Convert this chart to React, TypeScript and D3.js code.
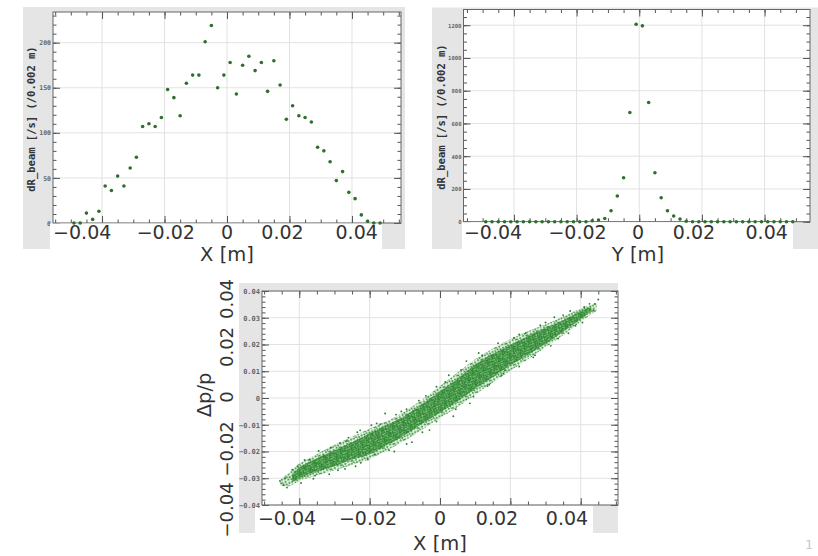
import React, { useEffect, useRef } from 'react';
import * as d3 from 'd3';

// bin centres (0.002 m bins)
const binCenters = [
  -0.049, -0.047, -0.045, -0.043, -0.041, -0.039, -0.037, -0.035, -0.033, -0.031,
  -0.029, -0.027, -0.025, -0.023, -0.021, -0.019, -0.017, -0.015, -0.013, -0.011,
  -0.009, -0.007, -0.005, -0.003, -0.001, 0.001, 0.003, 0.005, 0.007, 0.009,
  0.011, 0.013, 0.015, 0.017, 0.019, 0.021, 0.023, 0.025, 0.027, 0.029,
  0.031, 0.033, 0.035, 0.037, 0.039, 0.041, 0.043, 0.045, 0.047, 0.049,
];

// dR_beam per bin, X projection
const rateX = [
  0, 0, 11, 4, 13, 41, 36, 52, 41, 61,
  73, 107, 110, 107, 117, 148, 139, 119, 155, 164,
  164, 201, 219, 150, 164, 178, 143, 175, 185, 169,
  178, 146, 180, 153, 115, 130, 119, 117, 112, 84,
  80, 68, 47, 57, 34, 27, 9, 2, 0, 0,
];

// dR_beam per bin, Y projection
const rateY = [
  0, 0, 0, 0, 0, 0, 0, 0, 0, 0,
  0, 0, 0, 0, 0, 0, 0, 6, 10, 20,
  67, 157, 268, 667, 1206, 1196, 728, 299, 146, 67,
  35, 16, 3, 0, 0, 0, 0, 0, 0, 0,
  0, 0, 0, 0, 0, 0, 0, 0, 0, 0,
];

const posTicks = [-0.04, -0.02, 0, 0.02, 0.04];
const posTickLabels = ['−0.04', '−0.02', '0', '0.02', '0.04'];
const rateXTicks = [0, 50, 100, 150, 200];
const rateYTicks = [0, 200, 400, 600, 800, 1000, 1200];
const dpTicks = [-0.04, -0.03, -0.02, -0.01, 0, 0.01, 0.02, 0.03, 0.04];

// X vs dp/p cloud: outer envelope of the particles
const bandX = [-0.0455, -0.043, -0.04, -0.035, -0.03, -0.025, -0.02, -0.015, -0.01, -0.005, 0, 0.005, 0.01, 0.015, 0.02, 0.025, 0.03, 0.035, 0.04, 0.0445];
const bandLo = [-0.0325, -0.033, -0.031, -0.029, -0.027, -0.025, -0.0228, -0.0195, -0.016, -0.0118, -0.0075, -0.0035, 0.0012, 0.0058, 0.0102, 0.0145, 0.019, 0.0235, 0.0285, 0.0325];
const bandHi = [-0.0305, -0.028, -0.0245, -0.021, -0.0175, -0.0145, -0.0115, -0.0085, -0.005, -0.0006, 0.0045, 0.0095, 0.0145, 0.0185, 0.022, 0.025, 0.0275, 0.0305, 0.0335, 0.0355];

// dense core of the cloud
const coreX = [-0.042, -0.04, -0.035, -0.03, -0.025, -0.02, -0.015, -0.01, -0.005, 0, 0.005, 0.01, 0.015, 0.02, 0.025, 0.03, 0.035, 0.04, 0.043];
const coreLo = [-0.0315, -0.03, -0.0275, -0.0255, -0.023, -0.021, -0.0176, -0.0138, -0.0095, -0.0055, -0.0012, 0.0035, 0.0078, 0.0122, 0.0162, 0.0203, 0.0248, 0.0295, 0.0325];
const coreHi = [-0.0285, -0.026, -0.0225, -0.0195, -0.0165, -0.0132, -0.01, -0.0066, -0.0022, 0.0025, 0.0072, 0.0125, 0.0165, 0.0198, 0.0233, 0.0263, 0.029, 0.0325, 0.034];

// scattered particles along the edges of the cloud
const strayX = [
  -0.0455, -0.0445, -0.044, -0.0417, -0.0405, -0.0384, -0.037, -0.0355, -0.0327, -0.031,
  -0.029, -0.0265, -0.024, -0.0227, -0.0205, -0.018, -0.0156, -0.013, -0.011, -0.008,
  -0.006, -0.003, 0.0015, 0.0038, 0.006, 0.0085, 0.012, 0.014, 0.018, 0.0185,
  0.021, 0.0244, 0.027, 0.03, 0.0336, 0.035, 0.0385, 0.041, 0.0436, 0.045,
  0.044, -0.042, -0.0385, -0.0345, -0.033, -0.0285, -0.026, -0.0235, -0.0195, -0.017,
  -0.0125, -0.0095, -0.004, -0.001, 0.0025, 0.0075, 0.011, 0.0165, 0.0225, 0.0285,
  0.0325, 0.037, 0.0425, -0.0435, -0.0395, -0.036, -0.0315, -0.027, -0.0225, -0.0185,
  -0.0145, -0.0095, -0.005, -0.001, 0.0045, 0.0095, 0.0135, 0.0175, 0.0225, 0.0265,
  0.0315, 0.0365, 0.0405,
];
const strayDp = [
  -0.031, -0.0326, -0.03, -0.0295, -0.0255, -0.0262, -0.023, -0.029, -0.022, -0.0185,
  -0.027, -0.016, -0.0255, -0.0121, -0.023, -0.0095, -0.0058, -0.02, -0.005, -0.0165,
  -0.001, -0.012, 0.006, -0.0068, 0.0105, -0.002, 0.016, 0.005, 0.0091, 0.0104,
  0.0225, 0.0243, 0.016, 0.0282, 0.0222, 0.031, 0.027, 0.034, 0.0328, 0.0368,
  0.0352, -0.0268, -0.0232, -0.0198, -0.0215, -0.0168, -0.0148, -0.0128, -0.0102, -0.0098,
  -0.0062, -0.0042, 0.0008, 0.0042, 0.0085, 0.0138, 0.0168, 0.0205, 0.0238, 0.0272,
  0.0302, 0.0325, 0.0352, -0.0335, -0.0318, -0.0302, -0.0285, -0.0265, -0.0242, -0.0212,
  -0.0195, -0.0172, -0.0128, -0.0088, -0.0042, 0.0005, 0.0045, 0.0085, 0.0118, 0.0152,
  0.0195, 0.0242, 0.0282,
];

const GRAY = '#e5e5e5';
const BIG_FONT = 'DejaVu Sans, sans-serif';
const MONO = 'DejaVu Sans Mono, monospace';
const DOT = '#27842a';

const cleanTicks = (sel) => {
  sel.select('.domain').remove();
  sel.selectAll('line').attr('stroke', '#555');
};

// frame with grid, inward ticks on all four sides and small left labels
function drawFrame(root, cfg) {
  const { l, t, r, b } = cfg.frame;
  const x = d3.scaleLinear().domain(cfg.xDomain).range([l, r]);
  const y = d3.scaleLinear().domain(cfg.yDomain).range([b, t]);
  const g = root.append('g');

  g.append('rect').attr('x', l).attr('y', t).attr('width', r - l).attr('height', b - t).attr('fill', '#fff');

  g.append('g')
    .selectAll('line')
    .data(cfg.xMajor)
    .join('line')
    .attr('x1', (d) => x(d))
    .attr('x2', (d) => x(d))
    .attr('y1', t)
    .attr('y2', b)
    .attr('stroke', '#e2e2e2');
  g.append('g')
    .selectAll('line')
    .data(cfg.yMajor)
    .join('line')
    .attr('x1', l)
    .attr('x2', r)
    .attr('y1', (d) => y(d))
    .attr('y2', (d) => y(d))
    .attr('stroke', '#e2e2e2');

  [
    [cfg.xMajor, 7],
    [cfg.xMinor, 3.5],
  ].forEach(([vals, len]) => {
    g.append('g')
      .attr('transform', 'translate(0,' + b + ')')
      .call(d3.axisBottom(x).tickValues(vals).tickSize(-len).tickFormat(() => ''))
      .call(cleanTicks);
    g.append('g')
      .attr('transform', 'translate(0,' + t + ')')
      .call(d3.axisTop(x).tickValues(vals).tickSize(-len).tickFormat(() => ''))
      .call(cleanTicks);
  });

  g.append('g')
    .attr('transform', 'translate(' + r + ',0)')
    .call(d3.axisRight(y).tickValues(cfg.yMajor).tickSize(-7).tickFormat(() => ''))
    .call(cleanTicks);
  g.append('g')
    .attr('transform', 'translate(' + r + ',0)')
    .call(d3.axisRight(y).tickValues(cfg.yMinor).tickSize(-3.5).tickFormat(() => ''))
    .call(cleanTicks);
  g.append('g')
    .attr('transform', 'translate(' + l + ',0)')
    .call(d3.axisLeft(y).tickValues(cfg.yMinor).tickSize(-3.5).tickFormat(() => ''))
    .call(cleanTicks);
  g.append('g')
    .attr('transform', 'translate(' + l + ',0)')
    .call(d3.axisLeft(y).tickValues(cfg.yMajor).tickSize(-7).tickPadding(2).tickFormat(cfg.yFormat))
    .call(cleanTicks)
    .attr('font-family', MONO)
    .attr('font-size', cfg.smallSize)
    .attr('font-weight', 'bold')
    .selectAll('text')
    .attr('fill', '#666');

  g.append('rect')
    .attr('x', l)
    .attr('y', t)
    .attr('width', r - l)
    .attr('height', b - t)
    .attr('fill', 'none')
    .attr('stroke', '#666');

  return { x, y };
}

// large overlaid tick labels, placed like on the slide
function bigXLabels(root, range, baseline) {
  const lx = d3.scaleLinear().domain(posTicks).range(range);
  root
    .append('g')
    .selectAll('text')
    .data(posTicks)
    .join('text')
    .attr('x', (d) => lx(d))
    .attr('y', baseline)
    .attr('text-anchor', 'middle')
    .attr('font-family', BIG_FONT)
    .attr('font-size', 19)
    .attr('fill', '#333')
    .text((d, i) => posTickLabels[i]);
}

function bigText(root, txt, x, y, rotate) {
  root
    .append('text')
    .attr('transform', 'translate(' + x + ',' + y + ')' + (rotate ? ' rotate(-90)' : ''))
    .attr('text-anchor', 'middle')
    .attr('font-family', BIG_FONT)
    .attr('font-size', 19.5)
    .attr('fill', '#333')
    .text(txt);
}

function titleText(root, x, y) {
  root
    .append('text')
    .attr('transform', 'translate(' + x + ',' + y + ') rotate(-90)')
    .attr('text-anchor', 'middle')
    .attr('font-family', MONO)
    .attr('font-weight', 'bold')
    .attr('font-size', 10.5)
    .attr('fill', '#333')
    .text('dR_beam [/s] (/0.002 m)');
}

const App = () => {
  const ref = useRef(null);

  useEffect(() => {
    const svg = d3.select(ref.current);
    svg.selectAll('*').remove();

    const defs = svg.append('defs');
    const sparse = defs
      .append('pattern')
      .attr('id', 'sparse')
      .attr('width', 8)
      .attr('height', 8)
      .attr('patternUnits', 'userSpaceOnUse')
      .attr('patternTransform', 'rotate(23)');
    [[1.2, 1.5], [4.8, 0.8], [7.0, 3.5], [3.1, 4.0], [0.7, 6.3], [5.2, 6.0], [2.7, 7.4], [7.4, 7.1]].forEach(([cx, cy]) =>
      sparse.append('circle').attr('cx', cx).attr('cy', cy).attr('r', 0.9).attr('fill', DOT),
    );
    const dense = defs
      .append('pattern')
      .attr('id', 'dense')
      .attr('width', 8)
      .attr('height', 8)
      .attr('patternUnits', 'userSpaceOnUse')
      .attr('patternTransform', 'rotate(31)');
    [
      [0.6, 0.9], [3.1, 0.4], [5.4, 1.6], [7.3, 0.7], [1.9, 2.8], [4.2, 3.3], [6.6, 3.0],
      [0.4, 4.6], [2.8, 5.2], [5.1, 5.0], [7.5, 5.6], [1.5, 7.2], [4.0, 7.4], [6.3, 7.1],
      [3.6, 1.9], [6.0, 4.4],
    ].forEach(([cx, cy]) => dense.append('circle').attr('cx', cx).attr('cy', cy).attr('r', 0.95).attr('fill', DOT));

    // ---- top left: X projection
    svg.append('rect').attr('x', 23).attr('y', 7).attr('width', 382).attr('height', 242).attr('fill', GRAY);
    const p1 = drawFrame(svg, {
      frame: { l: 53, t: 12, r: 401, b: 223 },
      xDomain: [-0.0557, 0.0557],
      yDomain: [0, 234],
      xMajor: posTicks,
      xMinor: d3.range(-0.055, 0.056, 0.005),
      yMajor: rateXTicks,
      yMinor: d3.range(0, 231, 10),
      yFormat: (d) => String(d),
      smallSize: 6.5,
    });
    svg.append('rect').attr('x', 50).attr('y', 223.5).attr('width', 332).attr('height', 25.5).attr('fill', '#fff');
    svg
      .append('g')
      .selectAll('circle')
      .data(binCenters)
      .join('circle')
      .attr('cx', (d) => p1.x(d))
      .attr('cy', (d, i) => p1.y(rateX[i]))
      .attr('r', 1.8)
      .attr('fill', '#2f6e2f');
    titleText(svg, 35, 119);
    bigXLabels(svg, [82.2, 165.8, 227, 282.5, 356.7], 238.5);
    bigText(svg, 'X [m]', 227, 261, false);

    // ---- top right: Y projection
    svg.append('rect').attr('x', 432).attr('y', 7.5).attr('width', 386).attr('height', 241.5).attr('fill', GRAY);
    const p2 = drawFrame(svg, {
      frame: { l: 463.5, t: 9.5, r: 810, b: 221.7 },
      xDomain: [-0.0561, 0.0545],
      yDomain: [0, 1296],
      xMajor: posTicks,
      xMinor: d3.range(-0.055, 0.0546, 0.005),
      yMajor: rateYTicks,
      yMinor: d3.range(0, 1291, 50),
      yFormat: (d) => String(d),
      smallSize: 5.6,
    });
    svg.append('rect').attr('x', 462).attr('y', 222.2).attr('width', 331).attr('height', 26.8).attr('fill', '#fff');
    svg
      .append('g')
      .selectAll('circle')
      .data(binCenters)
      .join('circle')
      .attr('cx', (d) => p2.x(d))
      .attr('cy', (d, i) => p2.y(rateY[i]))
      .attr('r', 1.8)
      .attr('fill', '#2f6e2f');
    titleText(svg, 445, 117);
    bigXLabels(svg, [493, 577.5, 638, 694, 766.7], 238.5);
    bigText(svg, 'Y [m]', 638, 261, false);

    // ---- bottom: X vs dp/p
    svg.append('rect').attr('x', 239).attr('y', 283).attr('width', 379).attr('height', 222).attr('fill', GRAY);
    svg.append('rect').attr('x', 239).attr('y', 505).attr('width', 16).attr('height', 28).attr('fill', GRAY);
    svg.append('rect').attr('x', 593).attr('y', 505).attr('width', 25).attr('height', 28).attr('fill', GRAY);
    const p3 = drawFrame(svg, {
      frame: { l: 262, t: 291, r: 618, b: 505 },
      xDomain: [-0.0506, 0.0506],
      yDomain: [-0.04, 0.04],
      xMajor: posTicks,
      xMinor: d3.range(-0.05, 0.0501, 0.005),
      yMajor: dpTicks,
      yMinor: d3.range(-0.04, 0.0401, 0.002),
      yFormat: (d) => (Math.abs(d) < 1e-9 ? '0' : d3.format('.2f')(d)),
      smallSize: 7,
    });
    const cloud = svg.append('g');
    const outer = d3
      .area()
      .curve(d3.curveCatmullRom)
      .x((d) => p3.x(d))
      .y0((d, i) => p3.y(bandLo[i]))
      .y1((d, i) => p3.y(bandHi[i]));
    const inner = d3
      .area()
      .curve(d3.curveCatmullRom)
      .x((d) => p3.x(d))
      .y0((d, i) => p3.y(coreLo[i]))
      .y1((d, i) => p3.y(coreHi[i]));
    cloud.append('path').attr('d', outer(bandX)).attr('fill', '#7fbf7f').attr('opacity', 0.2);
    cloud.append('path').attr('d', outer(bandX)).attr('fill', 'url(#sparse)');
    cloud.append('path').attr('d', inner(coreX)).attr('fill', '#4a9d4a').attr('opacity', 0.45);
    cloud.append('path').attr('d', inner(coreX)).attr('fill', 'url(#dense)');
    cloud
      .append('g')
      .selectAll('circle')
      .data(strayX)
      .join('circle')
      .attr('cx', (d) => p3.x(d))
      .attr('cy', (d, i) => p3.y(strayDp[i]))
      .attr('r', 0.95)
      .attr('fill', DOT);

    bigXLabels(svg, [287, 368, 440, 497, 567], 525.3);
    bigText(svg, 'X [m]', 440, 550, false);
    const ly = d3.scaleLinear().domain(posTicks).range([510, 449, 397, 347, 299]);
    svg
      .append('g')
      .selectAll('text')
      .data(posTicks)
      .join('text')
      .attr('transform', (d) => 'translate(233,' + ly(d) + ') rotate(-90)')
      .attr('text-anchor', 'middle')
      .attr('font-family', BIG_FONT)
      .attr('font-size', 18)
      .attr('fill', '#333')
      .text((d, i) => posTickLabels[i]);
    bigText(svg, 'Δp/p', 211, 395, true);

    // slide page number
    svg
      .append('text')
      .attr('x', 805)
      .attr('y', 549)
      .attr('font-family', BIG_FONT)
      .attr('font-size', 13)
      .attr('fill', '#c8c8c8')
      .text('1');
  }, []);

  return (
    <div style={{ position: 'absolute', left: 0, top: 0 }}>
      <svg ref={ref} width={818} height={556} style={{ display: 'block', background: '#fff' }}></svg>
    </div>
  );
};

export default App;
